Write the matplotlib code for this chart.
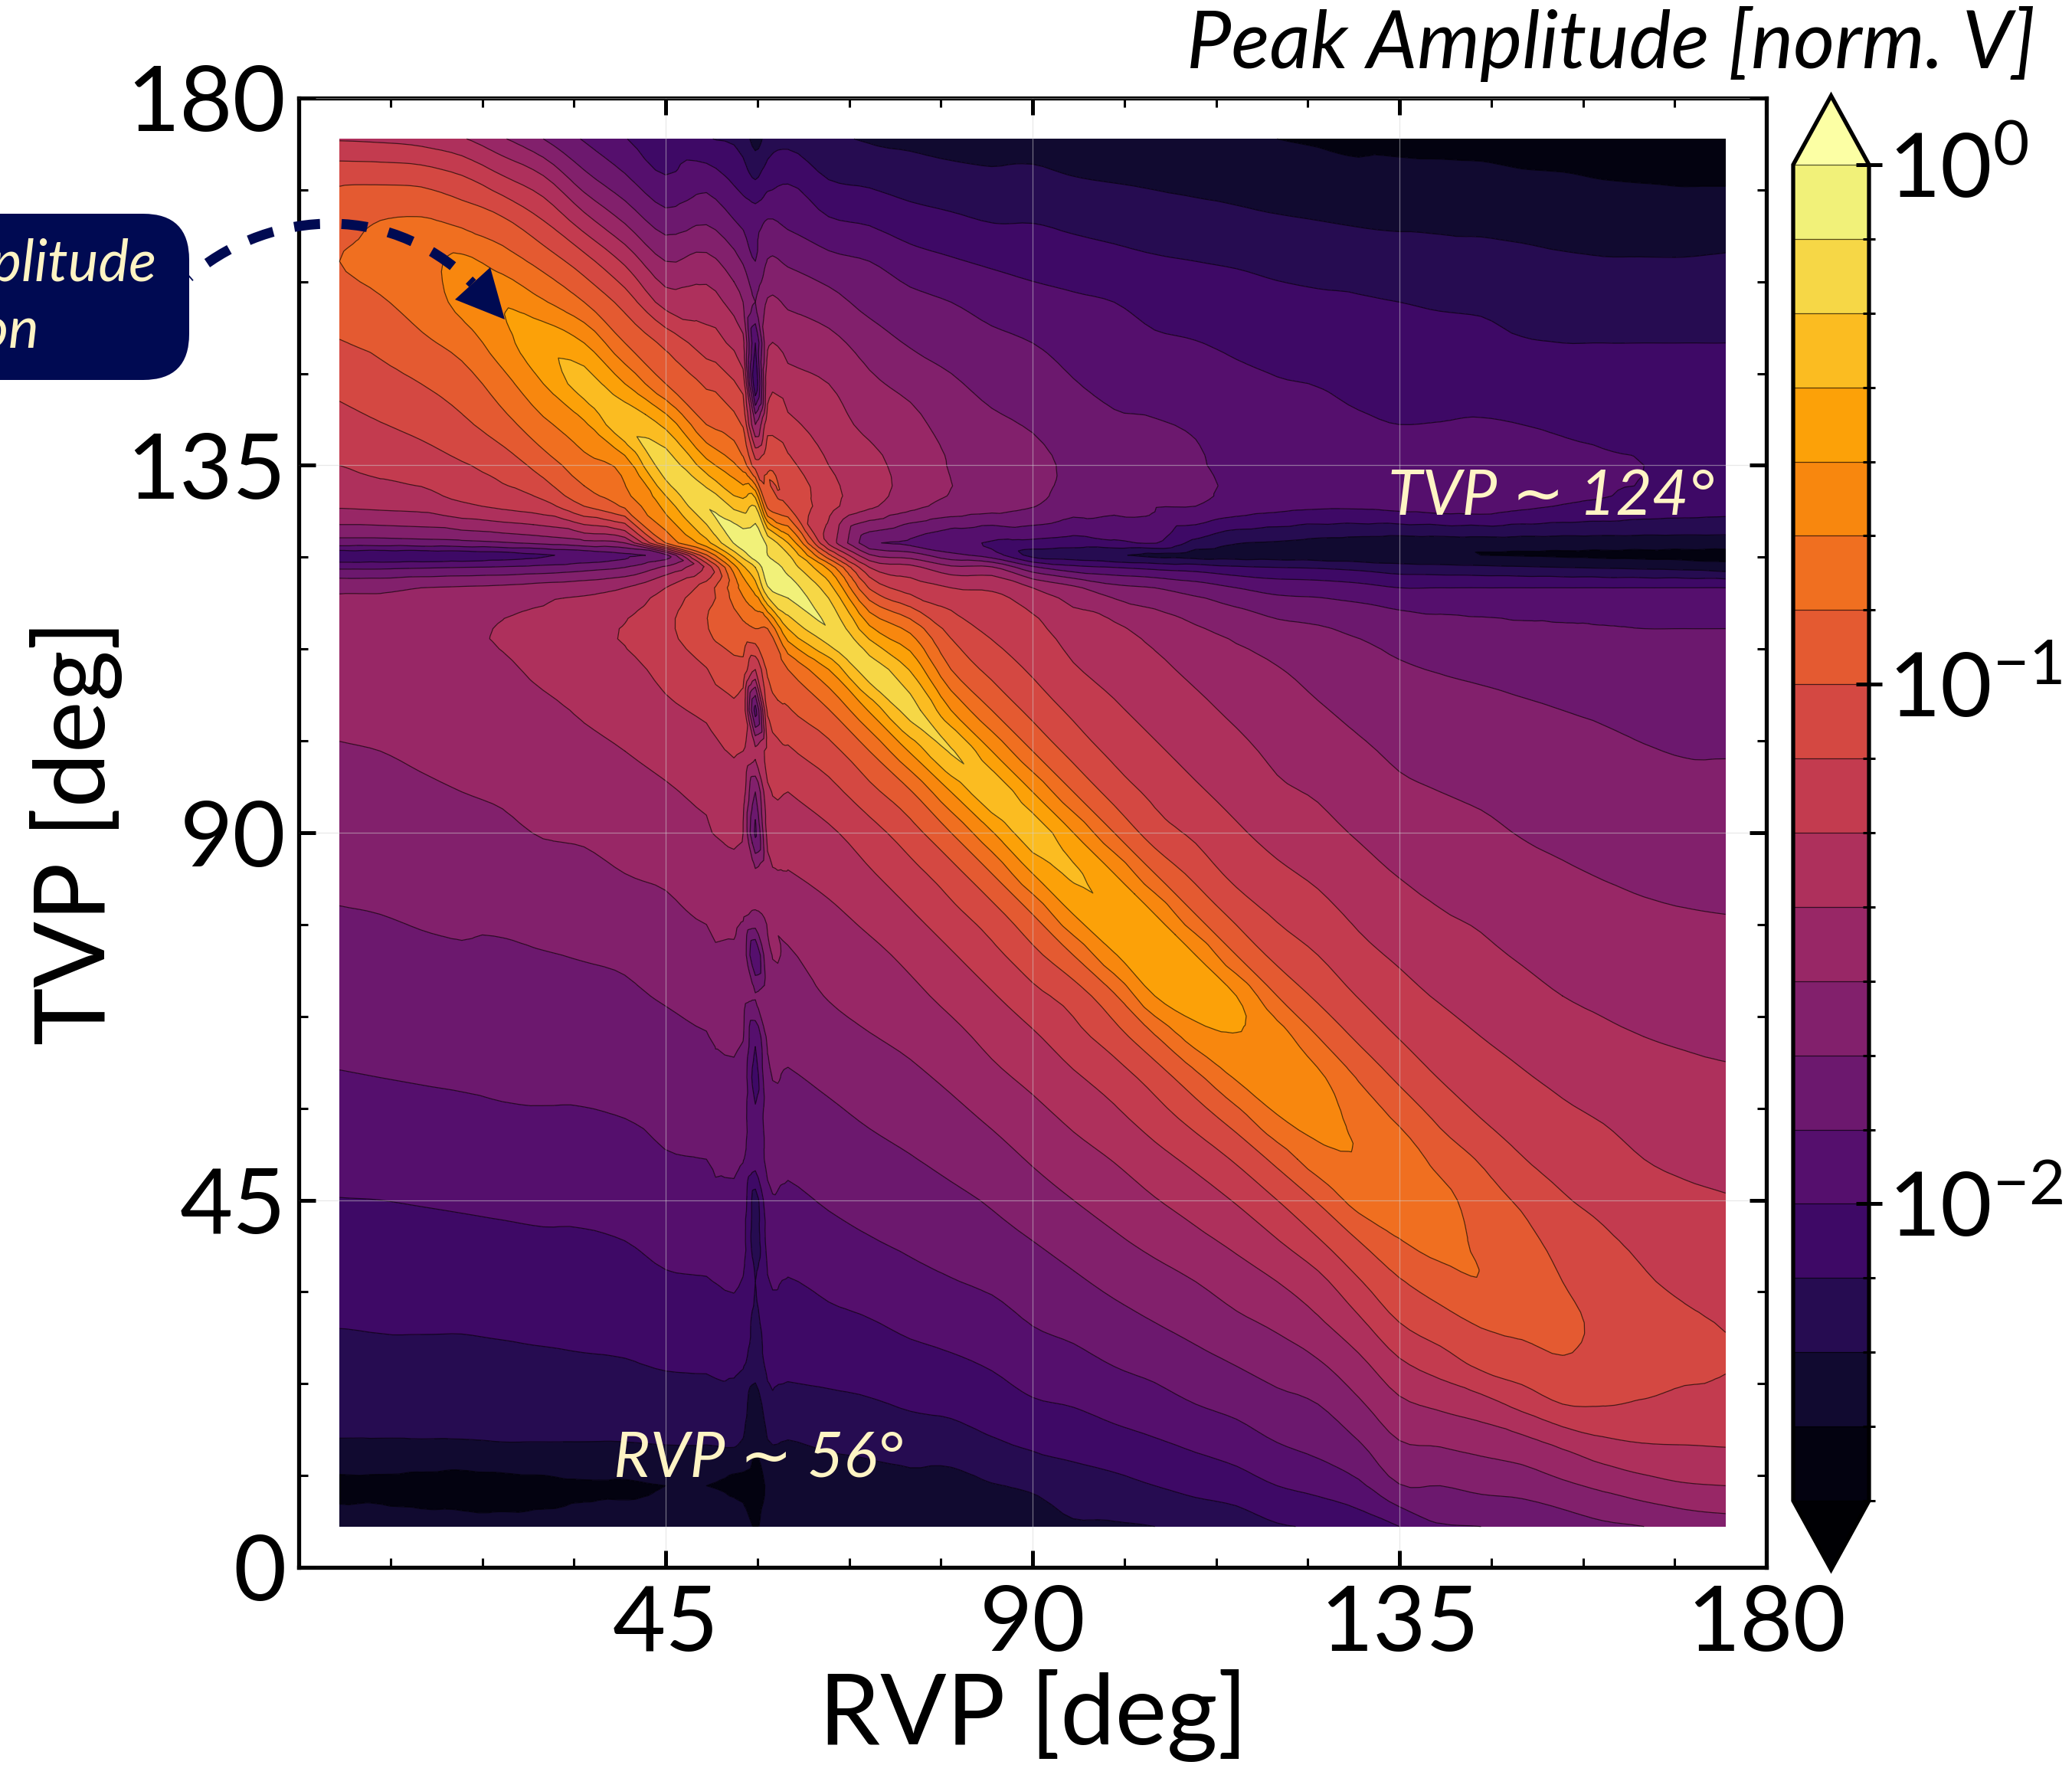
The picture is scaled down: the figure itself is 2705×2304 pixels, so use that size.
import numpy as np
import matplotlib
matplotlib.use("Agg")
import matplotlib.pyplot as plt
from matplotlib.colors import BoundaryNorm, ListedColormap
from matplotlib.patches import FancyBboxPatch, PathPatch, Polygon
from matplotlib.path import Path
from matplotlib.transforms import IdentityTransform
from matplotlib.tri import CubicTriInterpolator, LinearTriInterpolator, Triangulation, UniformTriRefiner

plt.rcParams["font.family"] = ["Lato", "DejaVu Sans"]

W, H, DPI = 2705, 2304, 200

rvp_deg = [5, 10, 15, 20, 25, 30, 35, 40, 45, 50, 54.5, 56, 57.5, 60, 65, 70, 75, 80, 85, 90, 95, 100,
           105, 110, 115, 120, 125, 130, 135, 140, 145, 150, 155, 160, 165, 170, 175]
tvp_deg = [175, 170, 165, 160, 155, 150, 145, 140, 135, 130, 125.5, 124, 122.5, 120, 115, 110, 105, 100,
           95, 90, 85, 80, 75, 70, 65, 60, 55, 50, 45, 40, 35, 30, 25, 20, 15, 10, 5]

# one list per rvp column, top to bottom.
# unit = colour band above the lowest level (7 bands per decade)
bands_by_rvp = [
    [8.9,10.8,11.6,12.0,11.5,10.95,10.3,9.6,9.0,8.1,5.5,3.3,4.8,6.8,7.3,7.25,7.15,6.95,6.75,6.55,6.2,5.95,5.7,5.45,5.2,4.95,4.65,4.3,3.98,3.65,3.35,3.05,2.7,2.3,1.9,0.8,1.5],
    [8.8,10.8,12.0,12.3,11.9,11.2,10.7,9.95,9.25,8.2,5.5,3.3,4.8,6.8,7.4,7.3,7.2,7.0,6.8,6.6,6.3,6.0,5.75,5.5,5.25,5.0,4.7,4.35,4.0,3.7,3.4,3.1,2.7,2.3,1.9,0.8,1.5],
    [8.6,10.7,12.1,12.6,12.4,11.8,11.0,10.3,9.45,8.3,5.6,3.3,4.9,7.0,7.6,7.45,7.3,7.1,6.9,6.65,6.4,6.1,5.85,5.6,5.3,5.05,4.75,4.4,4.05,3.75,3.45,3.1,2.75,2.35,1.9,0.7,1.4],
    [8.1,10.2,11.7,13.2,13.3,12.4,11.5,10.8,9.9,8.8,5.7,3.4,5.0,7.1,7.85,7.6,7.4,7.2,7.0,6.75,6.5,6.2,5.9,5.65,5.35,5.1,4.8,4.45,4.1,3.8,3.5,3.1,2.75,2.35,1.9,0.6,1.4],
    [7.1,9.2,11.15,12.5,13.9,13.6,12.6,11.6,10.4,9.2,5.9,3.6,5.1,7.2,8.05,7.85,7.6,7.35,7.1,6.85,6.55,6.3,5.8,5.7,5.4,5.2,4.85,4.5,4.15,3.85,3.55,3.15,2.8,2.4,1.95,0.7,1.3],
    [6.0,8.2,10.0,11.6,13.1,14.7,14.0,12.75,11.45,9.6,6.2,3.9,5.3,7.4,8.3,8.2,7.8,7.55,7.3,7.05,6.7,6.4,5.95,5.7,5.45,5.2,4.9,4.55,4.2,3.9,3.6,3.2,2.85,2.4,1.95,0.8,1.3],
    [4.9,6.4,8.4,10.4,12.0,14.0,15.4,13.8,12.6,11.0,6.6,4.3,5.6,7.6,8.8,8.5,8.1,7.8,7.5,7.15,6.7,6.35,6.05,5.75,5.5,5.25,4.9,4.55,4.25,3.9,3.65,3.25,2.9,2.4,1.95,0.9,1.4],
    [4.05,5.2,6.85,8.8,10.6,12.0,14.0,15.8,13.4,12.2,7.0,4.8,6.0,8.0,9.05,8.7,8.3,8.0,7.7,7.4,7.0,6.5,6.15,5.85,5.55,5.3,5.0,4.7,4.3,4.0,3.7,3.3,2.95,2.45,1.95,0.9,1.5],
    [3.4,4.1,5.45,7.0,8.6,10.75,12.0,14.7,16.6,14.3,12.0,5.6,7.2,9.0,9.75,9.3,8.8,8.3,7.9,7.6,7.15,6.8,6.5,6.1,5.7,5.4,5.1,4.95,4.55,4.2,3.9,3.4,3.1,2.5,2.0,1.0,1.6],
    [3.05,4.6,5.85,7.3,8.5,9.45,10.85,12.0,14.4,16.95,14.6,11.9,9.2,10.5,10.95,9.95,9.2,8.6,8.2,7.85,7.45,7.1,6.7,6.3,5.95,5.6,5.3,5.0,4.6,4.3,3.95,3.5,3.15,2.5,2.0,1.0,1.8],
    [2.6,3.5,4.75,5.9,7.0,8.25,9.6,10.9,12.5,15.5,17.6,16.4,14.8,13.4,11.7,10.6,9.7,9.0,8.4,8.0,7.6,7.15,6.6,6.3,6.05,5.6,5.3,5.05,4.55,4.3,3.95,3.5,3.1,2.4,1.9,0.7,1.8],
    [1.6,3.0,4.6,5.0,6.0,4.0,3.0,7.0,10.5,16.0,17.7,17.6,16.0,14.5,12.0,9.0,4.5,8.3,6.0,4.8,7.2,6.9,4.0,6.1,4.2,3.6,4.2,4.4,2.6,2.5,3.0,2.8,2.6,1.3,1.1,0.6,0.9],
    [2.4,3.6,5.05,6.05,7.1,7.9,8.7,9.6,10.9,11.7,16.8,17.0,17.6,16.9,12.0,11.2,10.2,9.3,8.8,8.3,7.8,7.1,6.8,6.5,6.2,5.8,5.5,5.2,4.7,4.3,3.95,3.5,3.15,2.7,1.9,1.1,1.5],
    [2.7,3.9,4.75,5.85,6.85,7.55,8.45,9.25,10.3,11.0,15.0,16.1,16.6,17.4,15.0,12.0,10.9,9.85,9.0,8.5,7.95,7.4,6.9,6.65,6.3,5.9,5.55,5.2,4.8,4.4,3.95,3.5,3.2,2.7,1.9,1.3,1.5],
    [2.2,3.0,4.1,5.3,6.4,7.3,8.0,8.5,9.0,9.4,8.8,11.2,13.7,15.4,16.95,14.0,11.95,10.65,9.65,8.85,8.35,7.8,7.45,7.05,6.65,6.2,5.8,5.45,5.1,4.7,4.2,3.8,3.3,2.8,2.15,1.3,1.6],
    [1.9,2.8,3.85,5.0,5.65,6.55,7.2,7.7,8.4,8.2,5.3,7.1,9.0,10.9,14.2,16.6,14.1,12.0,10.7,9.6,8.9,8.3,7.75,7.4,6.95,6.5,6.1,5.7,5.3,4.95,4.45,3.95,3.5,2.9,2.3,1.5,1.7],
    [1.8,2.5,3.45,4.4,5.3,5.9,6.7,7.3,7.5,7.3,4.8,6.5,8.3,9.5,12.7,14.9,16.4,14.1,11.9,10.6,9.65,8.9,8.25,7.75,7.25,6.8,6.35,5.95,5.55,5.15,4.75,4.2,3.7,3.1,2.5,1.7,1.8],
    [1.7,2.3,3.2,4.1,5.0,5.55,6.15,6.6,6.95,6.7,4.2,5.3,7.2,9.0,10.65,12.0,14.0,16.1,14.0,12.0,10.6,9.7,8.9,8.3,7.7,7.2,6.7,6.25,5.8,5.4,4.95,4.4,3.85,3.2,2.6,1.6,1.9],
    [1.6,2.2,2.95,3.85,4.6,5.25,5.7,6.2,6.7,6.4,3.9,4.5,7.1,8.85,9.75,10.7,12.0,14.0,15.75,13.9,12.0,10.6,9.7,8.9,8.3,7.75,7.15,6.6,6.1,5.7,5.2,4.55,4.1,3.5,2.85,1.95,1.8],
    [1.6,2.25,2.95,3.65,4.35,5.0,5.55,5.9,6.35,6.05,3.7,2.7,5.2,8.0,9.3,9.85,10.7,12.0,14.0,15.55,14.0,12.0,10.7,9.7,8.85,8.25,7.65,7.1,6.55,6.0,5.5,5.05,4.45,3.9,3.15,2.1,1.8],
    [1.5,2.05,2.75,3.5,4.15,4.65,5.05,5.4,5.75,5.4,3.5,2.5,4.3,7.2,8.45,9.1,9.8,10.65,12.0,14.0,15.1,14.0,12.0,10.45,9.65,8.85,8.2,7.6,7.0,6.4,5.85,5.3,4.7,4.05,3.35,2.5,1.9],
    [1.5,1.95,2.6,3.3,4.0,4.4,4.8,5.1,5.3,5.15,3.8,2.1,4.0,6.3,8.2,8.65,9.15,9.75,10.6,12.0,14.0,14.9,13.9,11.85,10.55,9.5,8.75,8.05,7.45,6.85,6.25,5.65,5.05,4.35,3.6,2.7,1.9],
    [1.4,1.85,2.5,3.1,3.65,4.15,4.65,5.05,5.2,5.05,4.05,1.8,3.7,6.0,7.55,8.25,8.65,9.15,9.75,10.5,12.0,14.0,14.7,14.0,11.9,10.45,9.5,8.65,7.95,7.3,6.6,6.0,5.3,4.65,3.85,3.0,2.0],
    [1.3,1.75,2.35,3.0,3.5,4.03,4.45,4.9,5.1,5.0,2.7,1.65,3.5,5.5,7.1,7.75,8.25,8.65,9.15,9.8,10.7,12.0,14.0,14.5,13.5,11.7,10.4,9.3,8.45,7.75,7.0,6.35,5.7,5.0,4.15,3.3,2.2],
    [1.15,1.6,2.25,2.9,3.4,3.85,4.2,4.55,4.7,4.55,2.05,1.6,3.15,5.0,6.7,7.3,7.8,8.25,8.65,9.15,9.7,10.7,12.0,14.0,13.95,13.1,11.5,10.15,9.1,8.25,7.5,6.8,6.05,5.3,4.45,3.55,2.4],
    [1.0,1.5,2.1,2.75,3.25,3.7,4.05,4.25,4.5,4.3,1.9,1.55,3.0,4.6,6.3,7.05,7.4,7.8,8.15,8.65,9.2,9.85,10.7,12.0,13.5,13.6,12.9,11.3,10.0,8.95,8.0,7.2,6.45,5.7,4.95,4.0,2.9],
    [0.9,1.4,2.0,2.65,3.15,3.55,3.98,4.15,4.35,4.15,1.7,1.45,2.9,4.5,6.1,6.65,7.1,7.5,7.9,8.3,8.8,9.35,10.0,10.8,12.0,13.2,13.3,12.6,11.1,9.9,8.7,7.85,6.9,6.0,5.3,4.3,3.1],
    [0.8,1.25,1.9,2.5,3.1,3.45,3.8,4.1,4.35,4.15,1.6,1.3,2.7,4.3,5.8,6.35,6.75,7.15,7.45,7.9,8.35,8.8,9.3,9.95,10.8,11.9,12.7,12.95,12.4,11.0,9.9,8.8,7.75,6.85,5.9,4.8,3.4],
    [0.7,1.35,1.85,2.4,3.0,3.3,3.65,4.0,4.4,4.3,1.5,1.2,2.4,4.0,5.55,6.1,6.5,6.85,7.15,7.55,7.95,8.4,8.85,9.35,9.95,10.8,11.8,12.7,12.6,11.95,10.9,10.0,8.85,7.8,6.9,5.95,4.0],
    [0.7,1.3,1.8,2.4,2.9,3.3,3.6,4.03,4.55,4.45,1.5,1.1,2.3,4.0,5.35,5.95,6.35,6.7,7.0,7.35,7.75,8.05,8.5,8.9,9.45,9.95,10.8,11.6,12.4,12.4,11.5,10.6,9.5,8.2,7.05,6.0,4.9],
    [0.7,1.25,1.8,2.3,2.85,3.25,3.55,4.1,4.7,4.5,1.5,1.0,2.2,4.0,5.25,5.85,6.2,6.55,6.85,7.2,7.55,7.85,8.2,8.6,9.0,9.5,10.0,10.9,11.4,11.75,11.95,11.1,10.25,8.6,7.3,6.25,5.0],
    [0.6,1.15,1.75,2.2,2.75,3.05,3.5,4.0,4.6,4.2,1.5,0.95,2.1,4.0,5.15,5.75,6.1,6.4,6.7,6.95,7.3,7.45,7.9,8.3,8.7,9.1,9.6,10.05,10.85,11.25,11.45,11.2,10.6,9.3,7.6,6.4,5.1],
    [0.6,1.1,1.7,2.1,2.55,3.0,3.45,3.85,4.3,3.95,1.5,0.9,2.0,4.0,5.1,5.65,6.0,6.3,6.5,6.8,7.1,7.4,7.65,8.0,8.4,8.8,9.2,9.65,10.1,10.7,11.0,11.2,10.9,10.0,8.15,6.8,5.4],
    [0.6,1.0,1.6,2.05,2.5,3.0,3.4,3.75,4.1,3.8,1.5,0.85,1.9,4.0,5.05,5.5,5.9,6.15,6.4,6.65,6.95,7.25,7.55,7.85,8.15,8.55,8.95,9.35,9.75,10.15,10.5,10.8,10.7,10.05,8.7,7.2,5.8],
    [0.6,0.95,1.55,2.05,2.5,3.0,3.3,3.7,4.0,3.6,1.5,0.8,1.8,4.0,5.0,5.4,5.75,6.05,6.3,6.55,6.8,7.15,7.45,7.7,8.0,8.35,8.7,9.0,9.35,9.8,10.1,10.5,10.55,9.9,8.95,7.6,6.0],
    [0.6,0.9,1.55,2.05,2.55,3.0,3.3,3.55,3.8,3.5,1.5,0.75,1.7,4.0,5.0,5.35,5.65,5.95,6.25,6.5,6.75,7.05,7.35,7.6,7.9,8.2,8.5,8.85,9.15,9.5,9.8,10.15,10.25,9.7,9.0,7.9,6.3],
    [0.6,0.9,1.6,2.1,2.6,3.0,3.3,3.5,3.6,3.4,1.5,0.7,1.5,4.0,5.0,5.3,5.6,5.95,6.2,6.5,6.75,7.0,7.3,7.55,7.85,8.1,8.4,8.75,9.05,9.35,9.65,9.95,10.05,9.7,9.05,8.0,6.5],
]

level_steps = list(range(19))
ticks_major = [45, 90, 135, 180]
ticks_y = [0, 45, 90, 135, 180]
cbar_ticks = [1, 0.1, 0.01]
cbar_labels = [r"$\mathdefault{10^{0}}$", r"$\mathdefault{10^{-1}}$", r"$\mathdefault{10^{-2}}$"]

NAVY = "#000a52"
CREAM = "#fff4c4"


def frac_x(px):
    return px / W


def frac_y(py):
    return 1 - py / H


def disp(px, py):
    return (px, H - py)


levels = [10 ** ((k - 18) / 7) for k in level_steps]
bands = np.array(bands_by_rvp).T[::-1]
X, Y = np.meshgrid(rvp_deg, tvp_deg[::-1])

# cells are split along x+y=const, the direction the ridge runs in
nrow, ncol = bands.shape
tris = []
for j in range(nrow - 1):
    for i in range(ncol - 1):
        a = j * ncol + i
        b = a + 1
        c = a + ncol
        d = c + 1
        tris.append([a, b, c])
        tris.append([b, d, c])
tri = Triangulation(X.ravel(), Y.ravel(), tris)

# smooth the facets, but the cubic rings around the notch so keep it near the straight one
cubic = CubicTriInterpolator(tri, bands.ravel(), kind="geom")
tri_fine, bands_fine = UniformTriRefiner(tri).refine_field(bands.ravel(), triinterpolator=cubic, subdiv=2)
bands_flat = LinearTriInterpolator(tri, bands.ravel())(tri_fine.x, tri_fine.y)
bands_fine = np.clip(bands_fine, bands_flat - 0.2, bands_flat + 0.2)
amp_fine = 10 ** ((np.asarray(bands_fine) - 18) / 7)

inferno = plt.get_cmap("inferno")
band_cmap = ListedColormap([inferno(0.03 + 0.0544 * k) for k in range(18)])
band_cmap.set_over(inferno(1.0))
band_cmap.set_under(inferno(0.0))
norm = BoundaryNorm(levels, 18)

fig = plt.figure(figsize=(W / DPI, H / DPI), dpi=DPI)
ax = fig.add_axes([frac_x(390), frac_y(2046), (2306 - 390) / W, (2046 - 128) / H])
cf = ax.tricontourf(tri_fine, amp_fine, levels=levels, cmap=band_cmap, norm=norm, extend="both", zorder=1)
cl = ax.tricontour(tri_fine, amp_fine, levels=levels, colors="k", linewidths=0.45, alpha=0.65, zorder=2)

ax.set_xlim(0, 180)
ax.set_ylim(0, 180)
ax.set_xticks(ticks_major)
ax.set_yticks(ticks_y)
ax.set_xticks(np.arange(0, 181, 11.25), minor=True)
ax.set_yticks(np.arange(0, 181, 11.25), minor=True)
ax.tick_params(which="major", direction="in", length=8, width=1.8, top=True, right=True, labelsize=43)
ax.tick_params(which="minor", direction="in", length=4.2, width=1.1, top=True, right=True)
ax.tick_params(axis="x", which="major", pad=8)
ax.tick_params(axis="y", which="major", pad=6)
ax.grid(True, which="major", color="#d2d2d2", alpha=0.5, linewidth=0.45)
ax.set_axisbelow(False)
for sp in ax.spines.values():
    sp.set_linewidth(1.9)

fig.text(frac_x(1349), frac_y(2277), "RVP [deg]", fontsize=46, ha="center", va="baseline")
fig.text(frac_x(100), frac_y(1087), "TVP [deg]", fontsize=46, rotation=90, ha="center", va="center")

# cax holds the two end triangles as well as the body
cax = fig.add_axes([frac_x(2341), frac_y(2049), (2440 - 2341) / W, (2049 - 125) / H])
cbar = fig.colorbar(cf, cax=cax, extend="both", extendfrac=90 / 1744, spacing="uniform")
cbar.add_lines(cl)
cbar.outline.set_linewidth(1.9)
cbar.set_ticks(cbar_ticks, labels=cbar_labels)
cbar.set_ticks(levels, minor=True)
cax.tick_params(which="major", direction="inout", length=12, width=1.8, labelsize=42, pad=3)
cax.tick_params(which="minor", direction="inout", length=6, width=1.1)

fig.text(frac_x(2657), frac_y(89), "Peak Amplitude [norm. V]", fontsize=37.5, style="italic", ha="right", va="baseline")
fig.text(frac_x(2238), frac_y(672), "TVP \u223c 124°", fontsize=29.5, style="italic", color=CREAM, ha="right", va="baseline", zorder=6)
fig.text(frac_x(801), frac_y(1927), "RVP \u223c 56°", fontsize=29.5, style="italic", color=CREAM, ha="left", va="baseline", zorder=6)

# callout box runs off the left edge, same as the source
box = FancyBboxPatch(disp(-200, 496), 447, 217, boxstyle="round,pad=0,rounding_size=60",
                     facecolor=NAVY, edgecolor="none", transform=IdentityTransform(), zorder=5)
fig.add_artist(box)
fig.text(frac_x(204), frac_y(367), "Amplitude", fontsize=27, style="italic", color=CREAM,
         ha="right", va="baseline", zorder=6)
fig.text(frac_x(51), frac_y(454), "Region", fontsize=27, style="italic", color=CREAM,
         ha="right", va="baseline", zorder=6)

curve = Path([disp(247, 362), disp(340, 280), disp(500, 255), disp(617, 370)],
             [Path.MOVETO, Path.CURVE4, Path.CURVE4, Path.CURVE4])
fig.add_artist(PathPatch(curve, fill=False, edgecolor=NAVY, linewidth=4.7, capstyle="butt",
                         linestyle=(2.46, (2.6, 2.15)), transform=IdentityTransform(), zorder=5))
fig.add_artist(Polygon([disp(640, 349), disp(594, 391), disp(659, 417)], closed=True, facecolor=NAVY,
                       edgecolor="none", transform=IdentityTransform(), zorder=5))

fig.savefig("out.png", dpi=DPI)
